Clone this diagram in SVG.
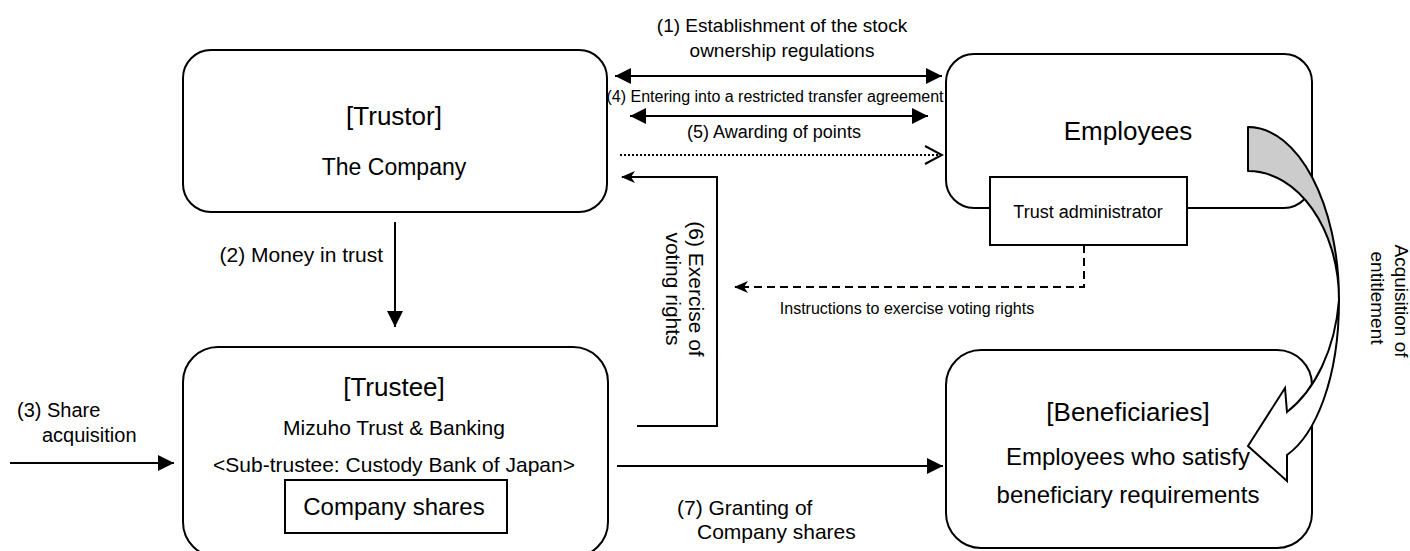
<svg xmlns="http://www.w3.org/2000/svg" width="1410" height="551" viewBox="0 0 1410 551">
<style>
text{font-family:"Liberation Sans",Arial,sans-serif;fill:#000}
.box{fill:#fff;stroke:#000;stroke-width:2}
.ln{fill:none;stroke:#000;stroke-width:2}
.c{text-anchor:middle}
</style>
<defs>
<marker id="tri" viewBox="0 0 16 16" refX="16" refY="8" markerWidth="16" markerHeight="16" markerUnits="userSpaceOnUse" orient="auto-start-reverse"><path d="M0,0 L16,8 L0,16 Z" fill="#000"/></marker>
<marker id="notch" viewBox="0 0 14 14" refX="13" refY="7" markerWidth="14" markerHeight="14" markerUnits="userSpaceOnUse" orient="auto"><path d="M0,1 L14,7 L0,13 L4,7 Z" fill="#000"/></marker>
<marker id="open" viewBox="0 0 20 20" refX="18" refY="10" markerWidth="20" markerHeight="20" markerUnits="userSpaceOnUse" orient="auto"><path d="M1,1 L18,10 L1,19" fill="none" stroke="#000" stroke-width="2"/></marker>
</defs>
<rect width="1410" height="551" fill="#fff"/>

<g id="trustor">
<rect class="box" x="183" y="50" width="424" height="162" rx="28"/>
<text class="c" x="394" y="125" font-size="26">[Trustor]</text>
<text class="c" x="394" y="175" font-size="23">The Company</text>
</g>

<g id="employees">
<rect class="box" x="946" y="54" width="366" height="154" rx="28"/>
<text class="c" x="1128" y="140" font-size="26">Employees</text>
</g>

<g id="trust-administrator">
<rect class="box" x="990" y="177" width="197" height="68"/>
<text class="c" x="1088" y="218" font-size="18">Trust administrator</text>
</g>

<g id="trustee">
<rect class="box" x="183" y="347" width="425" height="210" rx="35"/>
<text class="c" x="394" y="396" font-size="26">[Trustee]</text>
<text class="c" x="394" y="435" font-size="21">Mizuho Trust &amp; Banking</text>
<text class="c" x="394" y="472" font-size="21">&lt;Sub-trustee: Custody Bank of Japan&gt;</text>
</g>

<g id="company-shares">
<rect class="box" x="285" y="480" width="222" height="53"/>
<text class="c" x="394" y="515" font-size="24">Company shares</text>
</g>

<g id="beneficiaries">
<rect class="box" x="946" y="350" width="366" height="198" rx="35"/>
<text class="c" x="1128" y="421" font-size="26">[Beneficiaries]</text>
<text class="c" x="1128" y="465" font-size="24">Employees who satisfy</text>
<text class="c" x="1128" y="503" font-size="24">beneficiary requirements</text>
</g>

<g id="connectors">
<path class="ln" d="M615,76 H942" marker-start="url(#tri)" marker-end="url(#tri)"/>
<path class="ln" d="M630,116 H928" marker-start="url(#tri)" marker-end="url(#tri)"/>
<path class="ln" d="M620,155 H942" stroke-dasharray="2,2" marker-end="url(#open)"/>
<path class="ln" d="M637,426 H717 V177 H622" marker-end="url(#notch)"/>
<path class="ln" d="M395,222 V327" marker-end="url(#tri)"/>
<path class="ln" d="M10,463 H174" marker-end="url(#tri)"/>
<path class="ln" d="M617,466 H943" marker-end="url(#tri)"/>
<path class="ln" d="M1084,245 V287 H735" stroke-dasharray="8,5" marker-end="url(#notch)"/>

<text class="c" x="782" y="32" font-size="19">(1) Establishment of the stock</text>
<text class="c" x="782" y="57" font-size="19">ownership regulations</text>
<text class="c" x="775" y="102" font-size="16">(4) Entering into a restricted transfer agreement</text>
<text class="c" x="774" y="138" font-size="18">(5) Awarding of points</text>
<text x="383" y="262" font-size="21" text-anchor="end">(2) Money in trust</text>
<text x="17" y="417" font-size="20">(3) Share</text>
<text x="42" y="442" font-size="20">acquisition</text>
<text x="677" y="515" font-size="21">(7) Granting of</text>
<text x="697" y="539" font-size="21">Company shares</text>
<text class="c" x="907" y="314" font-size="16">Instructions to exercise voting rights</text>
<text class="c" font-size="21" transform="translate(689,289) rotate(90)">(6) Exercise of</text>
<text class="c" font-size="21" transform="translate(666,289) rotate(90)">voting rights</text>

<g id="acquisition-arrow">
<path d="M1248,127 C1298,127 1339,204 1339,300 C1339,229 1298,171 1248,171 Z" fill="#ccc" stroke="#000" stroke-width="2" stroke-linejoin="round"/>
<path d="M1339,300 C1339,380 1315,435 1287,455 L1287,481 L1248,446 L1285,388 L1287,412 C1315,390 1335,350 1339,300 Z" fill="#fff" stroke="#000" stroke-width="2" stroke-linejoin="miter"/>
</g>
<text class="c" font-size="19" transform="translate(1395,301) rotate(90)">Acquisition of</text>
<text class="c" font-size="19" transform="translate(1371,298) rotate(90)">entitlement</text>
</g>
</svg>
